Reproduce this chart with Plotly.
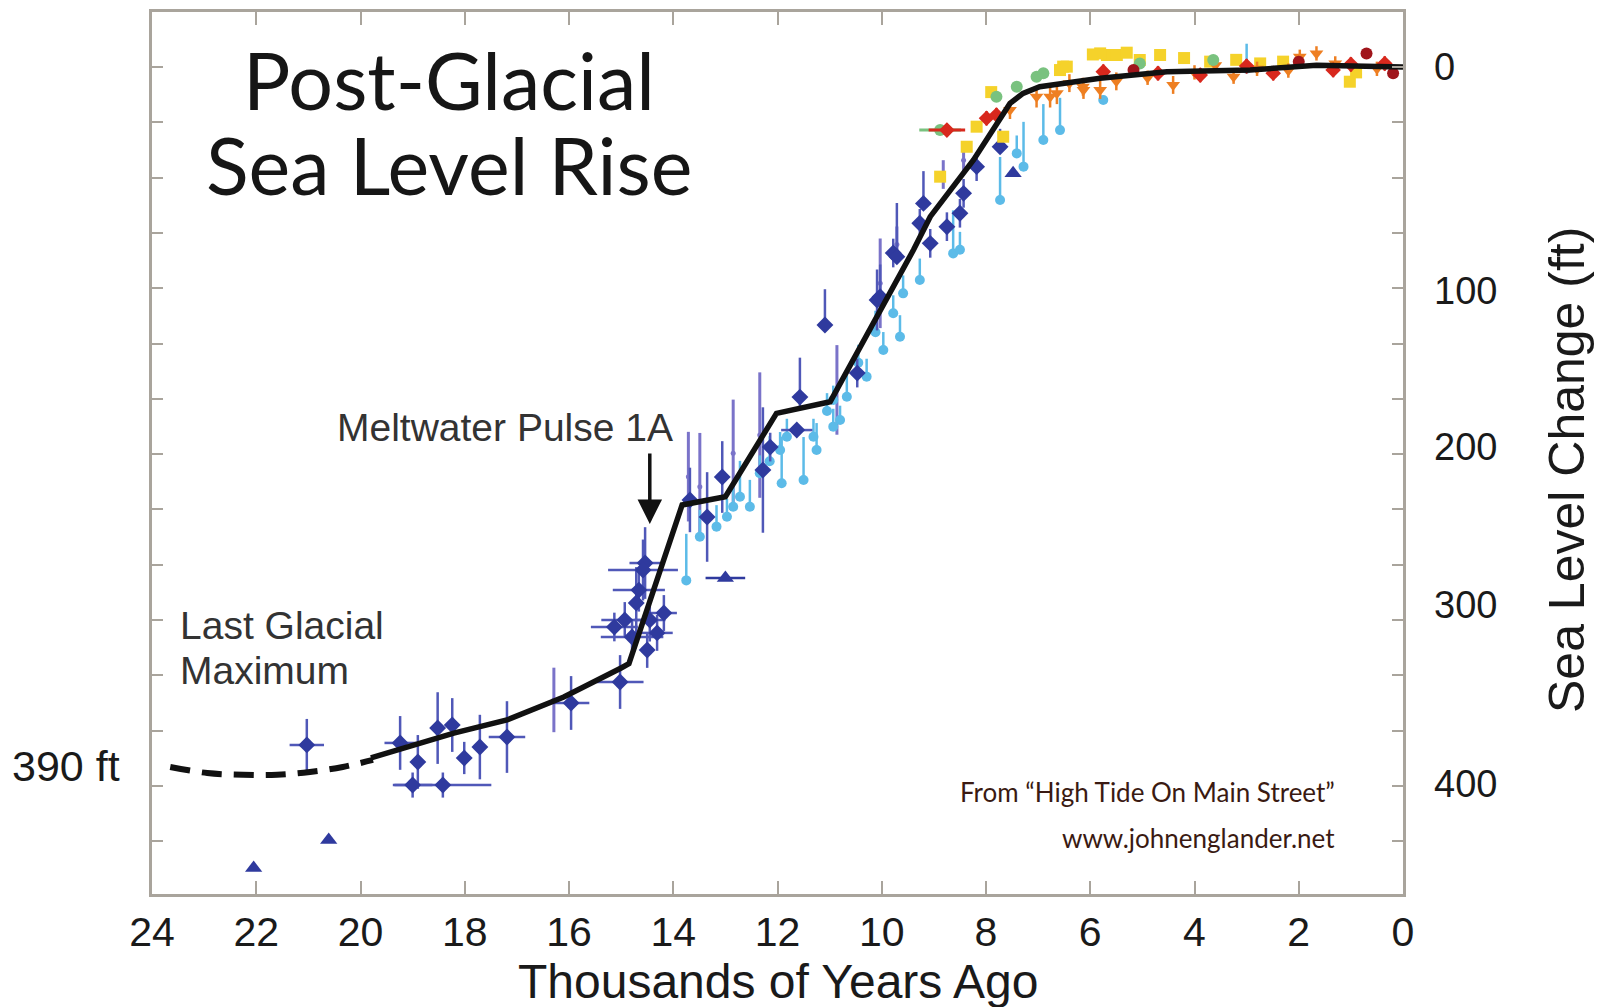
import plotly.graph_objects as go

# ---------------- data (age in thousands of years ago, sea level change in ft) ----------------
curve_dash_age = [23.65, 22.94, 22.25, 21.60, 20.97, 20.34, 19.76]
curve_dash_ft = [-390.6, -394.0, -395.0, -395.0, -393.4, -390.6, -386.7]

curve_age = [19.80, 18.21, 17.19, 16.10, 15.00, 14.85, 13.83, 13.00, 12.02, 10.99,
             9.39, 9.07, 8.24, 7.54, 7.29, 6.97, 5.81, 5.24, 4.53, 2.93, 1.66, 0.0]
curve_ft = [-385.6, -371.7, -364.4, -351.6, -335.4, -333.0, -244.4, -239.8, -193.3, -186.8,
            -102.0, -83.5, -51.9, -20.3, -14.7, -11.0, -6.3, -4.5, -2.6, -1.7, 1.0, 0.0]

# dark blue (coral / core samples)
db_age = [21.03, 19.24, 18.90, 19.00, 18.42, 18.52, 18.24, 18.01, 17.71, 17.19,
          15.96, 15.02, 14.54, 14.66, 14.93, 14.45, 14.79, 14.31, 14.18, 14.71,
          15.13, 14.50, 14.58, 13.35, 13.06, 12.28, 11.57, 11.63, 12.14, 13.68,
          10.47, 10.09, 9.78, 9.71, 9.20, 9.27, 8.75, 8.43, 8.50, 9.07,
          10.03, 7.73, 8.18, 11.09]
db_ft = [-378.3, -377.2, -387.8, -400.7, -400.7, -368.9, -367.2, -385.6, -379.5, -373.9,
         -354.9, -343.2, -276.8, -291.9, -308.6, -308.6, -318.1, -315.8, -304.7, -299.1,
         -312.5, -325.3, -280.7, -251.1, -228.8, -224.9, -184.2, -202.6, -212.1, -241.6,
         -170.8, -130.0, -103.8, -105.9, -76.1, -87.2, -89.1, -70.5, -81.6, -98.4,
         -128.2, -44.5, -55.6, -144.0]
db_ex = [0.33, 0.30, 0.0, 0.38, 0.93, 0.0, 0.0, 0.0, 0.0, 0.35,
         0.35, 0.45, 0.30, 0.50, 0.45, 0.30, 0.60, 0.30, 0.25, 0.0,
         0.45, 0.0, 0.67, 0.0, 0.0, 0.0, 0.0, 0.30, 0.0, 0.0,
         0.0, 0.0, 0.0, 0.0, 0.0, 0.0, 0.0, 0.0, 0.0, 0.0,
         0.0, 0.0, 0.0, 0.0]
db_ey_up = [14.5, 15, 15, 7, 7, 20, 15, 9, 18, 20,
            15, 15, 20, 12, 10, 12, 10, 10, 10, 20,
            8, 10, 17, 25, 20, 35, 22, 0, 8, 18,
            8, 17, 8, 30, 18, 8, 8, 8, 8, 8,
            18, 10, 8, 20]
db_ey_dn = [14.5, 15, 15, 7, 7, 20, 15, 9, 18, 20,
            15, 15, 20, 12, 10, 12, 10, 10, 10, 20,
            8, 10, 17, 25, 20, 35, 5, 0, 8, 18,
            8, 17, 8, 2, 2, 8, 8, 8, 8, 8,
            2, 2, 8, 0]

tri_age = [22.05, 20.61, 13.00, 7.48]
tri_ft = [-447.0, -431.4, -285.2, -59.3]
tri_ex = [0.0, 0.0, 0.38, 0.0]

pu_age = [16.29, 12.34, 12.85, 13.49, 13.71, 10.86, 10.03, 9.71, 8.82, 8.43]
pu_ft = [-353.2, -205.4, -215.6, -234.2, -228.6, -180.2, -120.7, -99.0, -60.0, -52.0]
pu_ey = [18, 35, 30, 30, 25, 25, 25, 10, 8, 8]

cy_age = [13.75, 13.49, 12.97, 12.72, 12.53, 12.85, 12.34, 11.92, 11.50, 11.95,
          11.82, 11.31, 11.25, 10.93, 10.80, 10.93, 10.67, 10.29, 9.97, 9.65,
          9.78, 9.59, 9.27, 13.17, 8.63, 8.50, 7.73, 7.28, 6.90, 6.58,
          5.75, 7.41, 3.00, 10.45, 10.12, 11.05, 12.15]
cy_ft = [-286.5, -262.1, -251.0, -239.8, -245.4, -245.4, -226.7, -232.3, -230.5, -213.7,
         -206.3, -206.3, -213.7, -200.7, -197.0, -185.8, -184.0, -172.8, -157.9, -150.5,
         -137.4, -126.3, -118.9, -256.5, -104.0, -102.0, -74.2, -55.6, -40.7, -35.2,
         -18.4, -48.2, -1.0, -165.0, -148.0, -192.0, -220.0]
cy_ey = [26, 15, 10, 20, 15, 12, 10, 26, 24, 10,
         10, 10, 15, 10, 8, 8, 12, 10, 10, 12,
         10, 10, 12, 12, 24, 10, 24, 25, 20, 18,
         0, 10, 14, 10, 12, 10, 14]

gr_age = [8.88, 7.41, 7.03, 7.80, 6.90, 5.05, 3.64]
gr_ft = [-35.2, -11.0, -5.4, -16.6, -3.5, 2.0, 3.9]
gr_ex = [0.40, 0.0, 0.0, 0.0, 0.0, 0.0, 0.0]

rd_age = [8.75, 7.99, 7.80, 5.75, 1.34, 3.89, 2.49, 4.70, 3.00, 1.00, 0.35]
rd_ft = [-35.2, -28.6, -26.8, -2.6, -1.7, -4.5, -3.5, -3.5, 0.5, 1.5, 2.0]
rd_ex = [0.35, 0.0, 0.0, 0.0, 0.0, 0.0, 0.0, 0.0, 0.0, 0.0, 0.0]
rd_ey = [0, 4, 4, 4, 4, 4, 4, 4, 4, 4, 4]

dr_age = [0.70, 0.19, 5.17, 2.00]
dr_ft = [7.6, -3.5, -1.7, 3.0]

ye_age = [8.18, 8.37, 8.88, 7.90, 6.52, 5.68, 7.67, 5.81, 5.49, 4.66,
          5.05, 6.58, 6.45, 3.70, 1.02, 2.74, 5.95, 5.30, 4.20, 3.20, 2.30, 0.90]
ye_ft = [-33.3, -44.5, -61.2, -14.0, 0.2, 6.7, -38.9, 7.6, 6.7, 6.7,
         3.9, -1.7, 0.2, 3.0, -8.2, 2.0, 7.0, 8.0, 5.0, 4.0, 3.0, -3.0]

or_age = [7.54, 7.03, 6.64, 6.13, 5.81, 4.41, 3.25, 1.98, 1.66, 6.14,
          6.77, 4.90, 2.20, 5.50, 4.00, 3.60, 2.80, 1.30, 0.50, 6.40]
or_ft = [-24.0, -16.6, -14.7, -12.8, -12.8, -10.0, -5.4, 5.7, 7.6, -11.0,
         -16.6, -6.0, -2.0, -8.0, -3.0, 1.0, -1.0, 2.0, -1.0, -9.0]
or_ey = [5, 6, 6, 5, 5, 5, 4, 4, 4, 5, 6, 4, 4, 5, 4, 4, 4, 4, 4, 5]

x_ticks = [24, 22, 20, 18, 16, 14, 12, 10, 8, 6, 4, 2, 0]
x_ticklabels = ["24", "22", "20", "18", "16", "14", "12", "10", "8", "6", "4", "2", "0"]
right_tickvals = [0, -125, -212, -300, -400]
right_ticklabels = ["0", "100", "200", "300", "400"]

# ---------------- layout geometry (screen pixels) ----------------
OFF = 8  # page body margin added by the browser
W, H = 1612 - OFF, 1007 - OFF
L, R, T, B = 152, 1403, 12, 894
FT_TOP, FT_BOT = 30.7, -461.5
MINOR = 30.86
left_ticks = [-k * MINOR for k in range(0, 15)]


def px(xp):
    return (xp - L) / (R - L)


def py(yp):
    return (B - yp) / (B - T)


NAVY = "#2f3a9e"
PURPLE = "#7a73c9"
CYAN = "#5cbbe8"

fig = go.Figure()

fig.add_trace(go.Scatter(
    x=pu_age, y=pu_ft, mode="markers",
    marker=dict(color=PURPLE, size=5, symbol="circle"),
    error_y=dict(type="data", array=pu_ey, color=PURPLE, thickness=3, width=0),
    hoverinfo="skip", showlegend=False))

fig.add_trace(go.Scatter(
    x=cy_age, y=cy_ft, mode="markers",
    marker=dict(color=CYAN, size=10, symbol="circle"),
    error_y=dict(type="data", array=cy_ey, arrayminus=[0] * len(cy_ey),
                 symmetric=False, color=CYAN, thickness=2.5, width=0),
    hoverinfo="skip", showlegend=False))

fig.add_trace(go.Scatter(
    x=db_age, y=db_ft, mode="markers",
    marker=dict(color=NAVY, size=13, symbol="diamond"),
    error_x=dict(type="data", array=db_ex, color="#5058b8", thickness=2.5, width=0),
    error_y=dict(type="data", array=db_ey_up, arrayminus=db_ey_dn, symmetric=False,
                 color="#5058b8", thickness=2.5, width=0),
    hoverinfo="skip", showlegend=False))

fig.add_trace(go.Scatter(
    x=tri_age, y=tri_ft, mode="markers",
    marker=dict(color=NAVY, size=15, symbol="triangle-up"),
    error_x=dict(type="data", array=tri_ex, color=NAVY, thickness=2.5, width=0),
    hoverinfo="skip", showlegend=False))

for ages, fts, col, sym, ex, ey in [
    (ye_age, ye_ft, "#f5d22a", "square", None, None),
    (or_age, or_ft, "#ee7f22", "triangle-down", None, or_ey),
    (gr_age, gr_ft, "#79c27f", "circle", gr_ex, None),
    (rd_age, rd_ft, "#d8281d", "diamond", rd_ex, rd_ey),
    (dr_age, dr_ft, "#a0151b", "circle", None, None),
]:
    kw = {}
    if ex is not None:
        kw["error_x"] = dict(type="data", array=ex, color=col, thickness=3, width=0)
    if ey is not None:
        kw["error_y"] = dict(type="data", array=ey, color=col, thickness=2.5, width=0)
    fig.add_trace(go.Scatter(
        x=ages, y=fts, mode="markers",
        marker=dict(color=col, size=12, symbol=sym),
        hoverinfo="skip", showlegend=False, **kw))

fig.add_trace(go.Scatter(
    x=curve_dash_age, y=curve_dash_ft, mode="lines",
    line=dict(color="#111111", width=6, dash="20px,12px", shape="spline"),
    hoverinfo="skip", showlegend=False))
fig.add_trace(go.Scatter(
    x=curve_age, y=curve_ft, mode="lines",
    line=dict(color="#111111", width=5.5),
    hoverinfo="skip", showlegend=False))

fig.add_trace(go.Scatter(x=[None], y=[None], yaxis="y2", showlegend=False, hoverinfo="skip"))

AXC = "#a9a49c"
SANS = "Liberation Sans, Arial"

fig.update_layout(
    width=W, height=H,
    margin=dict(l=L - OFF, r=W - (R - OFF), t=T - OFF, b=H - (B - OFF), autoexpand=False),
    paper_bgcolor="white", plot_bgcolor="white",
    showlegend=False,
    xaxis=dict(
        range=[24, 0], tickvals=x_ticks, ticktext=x_ticklabels,
        ticks="inside", ticklen=13, tickwidth=2, tickcolor=AXC,
        showline=True, linecolor=AXC, linewidth=3, mirror="ticks",
        showgrid=False, zeroline=False,
        tickfont=dict(family=SANS, size=41, color="#1a1a1a"),
        ticklabelstandoff=0,
    ),
    yaxis=dict(
        range=[FT_BOT, FT_TOP], tickvals=left_ticks, showticklabels=False,
        ticks="inside", ticklen=11, tickwidth=2, tickcolor=AXC,
        showline=True, linecolor=AXC, linewidth=3, mirror="ticks",
        showgrid=False, zeroline=False,
    ),
    yaxis2=dict(
        range=[FT_BOT, FT_TOP], overlaying="y", side="right",
        tickvals=right_tickvals, ticktext=right_ticklabels, ticks="",
        showline=False, showgrid=False, zeroline=False,
        tickfont=dict(family=SANS, size=38, color="#1a1a1a"),
        ticklabelstandoff=30,
    ),
)

ann = []
ann.append(dict(text="Thousands of Years Ago", x=px(778), y=py(981), xref="paper", yref="paper",
                showarrow=False, xanchor="center", yanchor="middle",
                font=dict(family=SANS, size=48, color="#1a1a1a")))
ann.append(dict(text="Sea Level Change (ft)", x=px(1567), y=py(470), xref="paper", yref="paper",
                showarrow=False, xanchor="center", yanchor="middle", textangle=-90,
                font=dict(family=SANS, size=50, color="#1a1a1a")))
ann.append(dict(text="Post-Glacial", x=px(449), y=py(79), xref="paper", yref="paper",
                showarrow=False, xanchor="center", yanchor="middle",
                font=dict(family="Lato, Open Sans", size=79, color="#161616")))
ann.append(dict(text="Sea Level Rise", x=px(449), y=py(165), xref="paper", yref="paper",
                showarrow=False, xanchor="center", yanchor="middle",
                font=dict(family="Lato, Open Sans", size=79, color="#161616")))
ann.append(dict(text="Meltwater Pulse 1A", x=px(505), y=py(427), xref="paper", yref="paper",
                showarrow=False, xanchor="center", yanchor="middle",
                font=dict(family=SANS, size=39, color="#333333")))
ann.append(dict(text="", x=14.45, y=-255, xref="x", yref="y", ax=0, ay=-72,
                showarrow=True, arrowhead=2, arrowsize=1.4, arrowwidth=3.5, arrowcolor="#111111"))
ann.append(dict(text="Last Glacial", x=px(178), y=py(625), xref="paper", yref="paper",
                showarrow=False, xanchor="left", yanchor="middle",
                font=dict(family=SANS, size=39, color="#333333")))
ann.append(dict(text="Maximum", x=px(178), y=py(670), xref="paper", yref="paper",
                showarrow=False, xanchor="left", yanchor="middle",
                font=dict(family=SANS, size=39, color="#333333")))
ann.append(dict(text="390 ft", x=px(122), y=py(766), xref="paper", yref="paper",
                showarrow=False, xanchor="right", yanchor="middle",
                font=dict(family=SANS, size=43, color="#1a1a1a")))
ann.append(dict(text="From “High Tide On Main Street”", x=px(1337), y=py(792),
                xref="paper", yref="paper", showarrow=False, xanchor="right", yanchor="middle",
                font=dict(family="Lato, Open Sans", size=26, color="#3a1a12")))
ann.append(dict(text="www.johnenglander.net", x=px(1337), y=py(838),
                xref="paper", yref="paper", showarrow=False, xanchor="right", yanchor="middle",
                font=dict(family="Lato, Open Sans", size=26, color="#3a1a12")))
fig.update_layout(annotations=ann)

fig.write_html("out.html")
